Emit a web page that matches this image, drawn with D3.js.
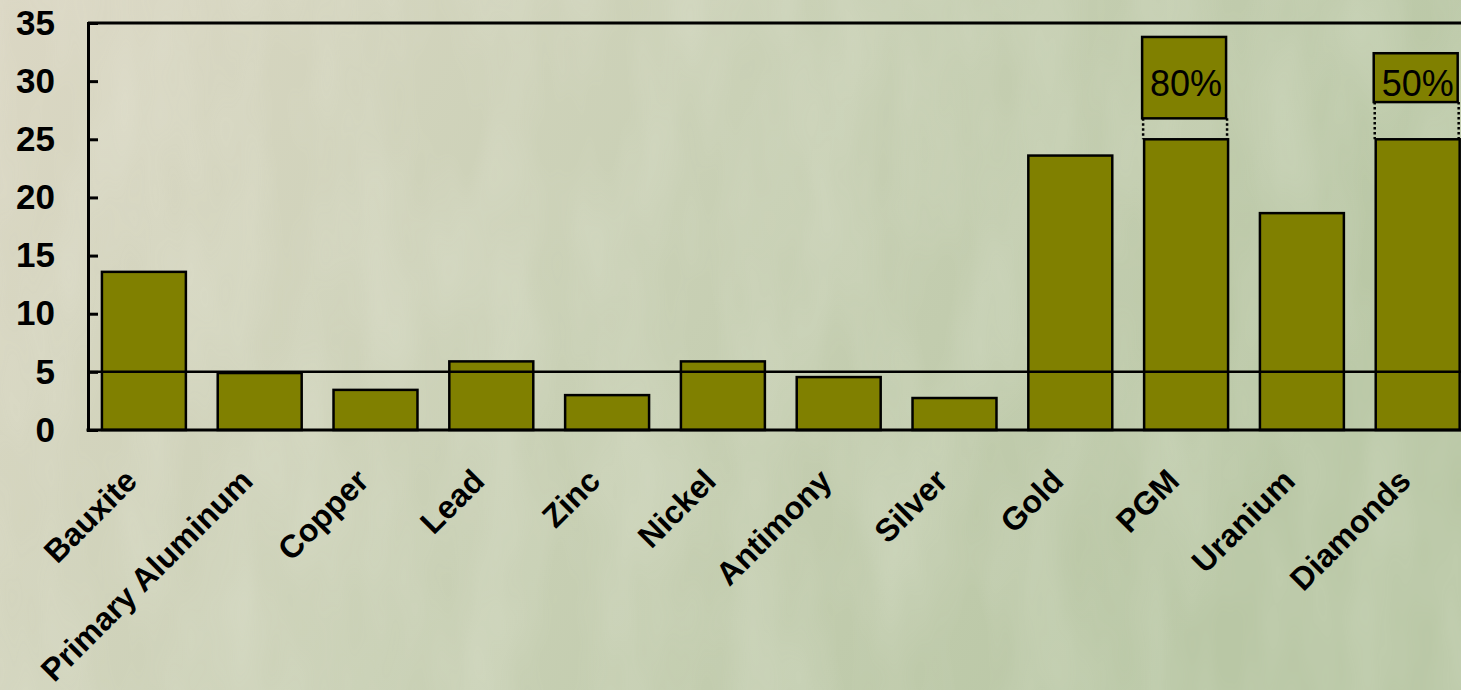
<!DOCTYPE html>
<html>
<head>
<meta charset="utf-8">
<script src="https://cdn.jsdelivr.net/npm/d3@7"></script>
<style>
  html, body { margin: 0; padding: 0; overflow: hidden; }
  body { width: 1461px; height: 690px; }
</style>
</head>
<body>
<div id="chart"></div>
<script>
// values
var minerals = ['Bauxite', 'Primary Aluminum', 'Copper', 'Lead', 'Zinc', 'Nickel',
                'Antimony', 'Silver', 'Gold', 'PGM', 'Uranium', 'Diamonds'];
var shares = [13.6, 4.9, 3.45, 5.9, 3.0, 5.9, 4.55, 2.75, 23.6, 25, 18.65, 25];
var yTicks = [0, 5, 10, 15, 20, 25, 30, 35];
var refLine = 5;
// floating boxes above the capped bars
var boxMinerals = ['PGM', 'Diamonds'];
var boxLow = [26.8, 28.2];
var boxHigh = [33.8, 32.4];
var boxLabels = ['80%', '50%'];

var W = 1461, H = 690;
var margin = { left: 88, top: 23, bottom: 430 };

var svg = d3.select('#chart').append('svg')
    .attr('width', W).attr('height', H);

var defs = svg.append('defs');
var grad = defs.append('linearGradient').attr('id', 'bg')
    .attr('x1', 0).attr('y1', 0).attr('x2', 1).attr('y2', 0.3);
grad.append('stop').attr('offset', '0%').attr('stop-color', '#dbd7c4');
grad.append('stop').attr('offset', '50%').attr('stop-color', '#c9d0b5');
grad.append('stop').attr('offset', '100%').attr('stop-color', '#b9c7a5');

var filt = defs.append('filter').attr('id', 'grain')
    .attr('x', 0).attr('y', 0).attr('width', '100%').attr('height', '100%');
filt.append('feTurbulence').attr('type', 'fractalNoise')
    .attr('baseFrequency', '0.015 0.005').attr('numOctaves', 3).attr('seed', 4);
filt.append('feColorMatrix').attr('type', 'matrix')
    .attr('values', '0 0 0 0 1  0 0 0 0 1  0 0 0 0 0.95  0 0 0 0.45 -0.12');

svg.append('rect').attr('width', W).attr('height', H).attr('fill', 'url(#bg)');
svg.append('rect').attr('width', W).attr('height', H).attr('filter', 'url(#grain)').attr('opacity', 0.55);

var x = d3.scaleBand()
    .domain(minerals)
    .range([margin.left - 2, margin.left - 2 + 12 * 115.8])
    .paddingInner(0.275)
    .paddingOuter(0.1375);

var y = d3.scaleLinear()
    .domain([0, 35])
    .range([margin.bottom, margin.top]);

// frame top line
svg.append('line')
    .attr('x1', margin.left).attr('x2', W + 20)
    .attr('y1', y(35)).attr('y2', y(35))
    .attr('stroke', '#000').attr('stroke-width', 3);

// bars
svg.append('g').selectAll('rect')
    .data(minerals)
    .enter()
    .append('rect')
    .attr('x', function(d) { return x(d); })
    .attr('width', x.bandwidth())
    .attr('y', function(d, i) { return y(shares[i]); })
    .attr('height', function(d, i) { return y(0) - y(shares[i]); })
    .attr('fill', '#808000')
    .attr('stroke', '#000')
    .attr('stroke-width', 2.5);

// floating boxes + dotted links
var boxes = svg.append('g').selectAll('g')
    .data(boxMinerals)
    .enter()
    .append('g');

boxes.append('rect')
    .attr('x', function(d) { return x(d) - 2; })
    .attr('width', x.bandwidth())
    .attr('y', function(d, i) { return y(boxHigh[i]); })
    .attr('height', function(d, i) { return y(boxLow[i]) - y(boxHigh[i]); })
    .attr('fill', '#808000')
    .attr('stroke', '#000')
    .attr('stroke-width', 2.5);

[0, 1].forEach(function(side) {
    boxes.append('line')
        .attr('x1', function(d) { return x(d) - 1 + side * x.bandwidth(); })
        .attr('x2', function(d) { return x(d) - 1 + side * x.bandwidth(); })
        .attr('y1', function(d, i) { return y(boxLow[i]); })
        .attr('y2', function(d) { return y(shares[minerals.indexOf(d)]); })
        .attr('stroke', '#000')
        .attr('stroke-width', 2.5)
        .attr('stroke-dasharray', '2.5,2.5');
});

boxes.append('text')
    .attr('x', function(d) { return x(d) + x.bandwidth() / 2; })
    .attr('y', function(d, i) { return (y(boxLow[i]) + y(boxHigh[i])) / 2 + 18; })
    .attr('text-anchor', 'middle')
    .style('font-family', 'Arial, "Liberation Sans", sans-serif')
    .style('font-size', '36px')
    .attr('fill', '#000')
    .text(function(d, i) { return boxLabels[i]; });

// reference line at 5
svg.append('line')
    .attr('x1', margin.left).attr('x2', W + 20)
    .attr('y1', y(refLine)).attr('y2', y(refLine))
    .attr('stroke', '#000').attr('stroke-width', 2.5);

// y axis
var yAxis = svg.append('g')
    .attr('transform', 'translate(' + margin.left + ',0)')
    .call(d3.axisLeft(y).tickValues(yTicks).tickSize(-10).tickPadding(33));
yAxis.select('.domain').attr('stroke-width', 3);
yAxis.selectAll('.tick line').attr('stroke-width', 3);
yAxis.selectAll('text')
    .style('font-family', 'Arial, "Liberation Sans", sans-serif')
    .style('font-size', '35px')
    .style('font-weight', 'bold')
    .attr('fill', '#000');

// x axis line
svg.append('line')
    .attr('x1', margin.left - 1.5).attr('x2', W + 20)
    .attr('y1', y(0)).attr('y2', y(0))
    .attr('stroke', '#000').attr('stroke-width', 3);

// rotated category labels
svg.append('g').selectAll('text')
    .data(minerals)
    .enter()
    .append('text')
    .attr('transform', function(d) {
        return 'translate(' + (x(d) + x.bandwidth() / 2 - 5) + ',483) rotate(-45)';
    })
    .attr('text-anchor', 'end')
    .style('font-family', 'Arial, "Liberation Sans", sans-serif')
    .style('font-size', '32px')
    .style('font-weight', 'bold')
    .attr('fill', '#000')
    .text(function(d) { return d; });
</script>
</body>
</html>
